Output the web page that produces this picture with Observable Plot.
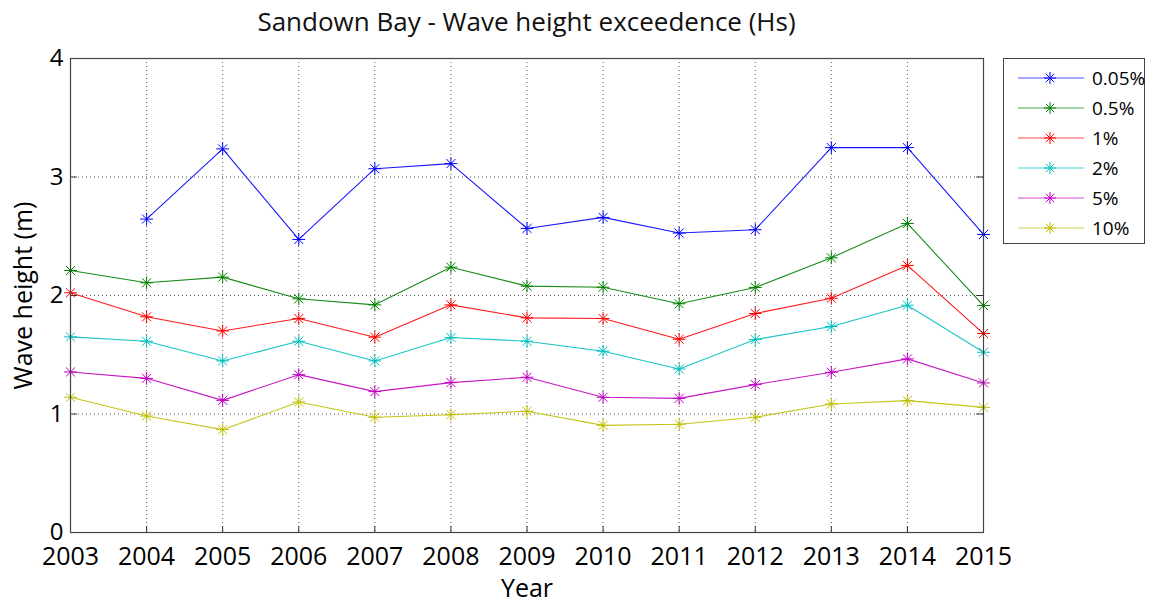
<!DOCTYPE html>
<html>
<head>
<meta charset="utf-8">
<script src="https://cdn.jsdelivr.net/npm/d3@7"></script>
<script src="https://cdn.jsdelivr.net/npm/@observablehq/plot@0.6"></script>
<style>
  body { margin: 0; background: #fff; font-family: "Open Sans", sans-serif; }
  #wrap { position: relative; width: 1153px; height: 602px; overflow: hidden; }
  #title { position: absolute; left: 70px; width: 913px; top: 3px; text-align: center; font-size: 26px; color: #111; }
  #legend { position: absolute; left: 1003px; top: 58px; width: 142px; height: 186px; border: 1px solid #444; background: #fff; box-sizing: border-box; }
  .row { position: absolute; left: 0; height: 30px; display: flex; align-items: center; }
  .row span { font-size: 19px; margin-left: 4px; color: #000; }
</style>
</head>
<body>
<div id="wrap">
  <div id="chart"></div>
  <div id="title">Sandown Bay - Wave height exceedence (Hs)</div>
  <div id="legend"></div>
</div>
<script>
const years = [2003, 2004, 2005, 2006, 2007, 2008, 2009, 2010, 2011, 2012, 2013, 2014, 2015];
const seriesNames = ["0.05%", "0.5%", "1%", "2%", "5%", "10%"];
const seriesColors = ["#0000ff", "#008000", "#ff0000", "#00bfbf", "#bf00bf", "#bfbf00"];
const hs005 = [null, 2.645, 3.237, 2.473, 3.07, 3.113, 2.566, 2.659, 2.527, 2.555, 3.248, 3.248, 2.515];
const hs05  = [2.211, 2.107, 2.155, 1.972, 1.921, 2.239, 2.079, 2.070, 1.930, 2.068, 2.318, 2.608, 1.915];
const hs1   = [2.023, 1.820, 1.701, 1.806, 1.648, 1.921, 1.811, 1.806, 1.631, 1.848, 1.977, 2.254, 1.679];
const hs2   = [1.651, 1.614, 1.448, 1.614, 1.448, 1.645, 1.614, 1.530, 1.380, 1.628, 1.738, 1.918, 1.521];
const hs5   = [1.355, 1.301, 1.115, 1.332, 1.189, 1.265, 1.310, 1.141, 1.132, 1.248, 1.352, 1.465, 1.262];
const hs10  = [1.141, 0.983, 0.868, 1.101, 0.972, 0.994, 1.023, 0.904, 0.913, 0.972, 1.085, 1.113, 1.056];
const yTicks = [0, 1, 2, 3, 4];
const xLabel = "Year";
const yLabel = "Wave height (m)";

const allSeries = [hs005, hs05, hs1, hs2, hs5, hs10];
const rows = [];
allSeries.forEach((vals, i) => {
  vals.forEach((v, j) => {
    if (v != null) rows.push({year: years[j], value: v, series: seriesNames[i]});
  });
});

const color = {domain: seriesNames, range: seriesColors};
const innerX = years.slice(1, -1);
const innerY = yTicks.slice(1, -1);

const chart = Plot.plot({
  width: 1153,
  height: 602,
  marginLeft: 70,
  marginRight: 170,
  marginTop: 58,
  marginBottom: 70,
  style: {fontFamily: "'Open Sans', sans-serif", background: "#fff", color: "#000"},
  x: {domain: [2003, 2015]},
  y: {domain: [0, 4]},
  color,
  marks: [
    Plot.ruleX(innerX, {x: d => d, stroke: "#444", strokeOpacity: 0.9, strokeWidth: 1, strokeDasharray: "1,3"}),
    Plot.ruleY(innerY, {y: d => d, stroke: "#444", strokeOpacity: 0.9, strokeWidth: 1, strokeDasharray: "1,3"}),
    Plot.axisX(years, {tickFormat: "d", tickSize: 0, tickPadding: 15, fontSize: 25, label: xLabel, labelAnchor: "center", labelArrow: "none", labelOffset: 64}),
    Plot.axisY(yTicks, {tickFormat: d => String(d), tickSize: 0, tickPadding: 7, fontSize: 24, label: null}),
    Plot.axisY({ticks: [], tickSize: 0, fontSize: 25, label: yLabel, labelAnchor: "center", labelArrow: "none", labelOffset: 56}),
    Plot.ruleX(years, {x: d => d, y1: 0, y2: 0.05, stroke: "#333"}),
    Plot.ruleY(yTicks, {y: d => d, x1: 2003, x2: 2003.09, stroke: "#333"}),
    Plot.ruleY(yTicks, {y: d => d, x1: 2014.91, x2: 2015, stroke: "#333"}),
    Plot.line(rows, {x: "year", y: "value", z: "series", stroke: "series", strokeWidth: 1.1, strokeOpacity: 0.9}),
    Plot.dot(rows, {x: "year", y: "value", stroke: "series", symbol: "plus", r: 4.2, strokeWidth: 1}),
    Plot.dot(rows, {x: "year", y: "value", stroke: "series", symbol: "times", r: 4.2, strokeWidth: 1}),
    Plot.frame({stroke: "#444", strokeWidth: 1.2})
  ]
});
document.getElementById("chart").appendChild(chart);

// Legend
const legend = document.getElementById("legend");
seriesNames.forEach((name, i) => {
  const row = document.createElement("div");
  row.className = "row";
  row.style.top = (4 + i * 30) + "px";
  const c = seriesColors[i];
  row.innerHTML = `<svg width="72" height="30" style="margin-left:12px">
    <line x1="2" x2="68" y1="15" y2="15" stroke="${c}" stroke-width="1.2" opacity="0.7"/>
    <g stroke="${c}" stroke-width="1" transform="translate(34,15)">
      <line x1="-6" x2="6" y1="0" y2="0"/><line x1="0" x2="0" y1="-6" y2="6"/>
      <line x1="-4.2" x2="4.2" y1="-4.2" y2="4.2"/><line x1="-4.2" x2="4.2" y1="4.2" y2="-4.2"/>
    </g></svg><span>${name}</span>`;
  legend.appendChild(row);
});
</script>
</body>
</html>
